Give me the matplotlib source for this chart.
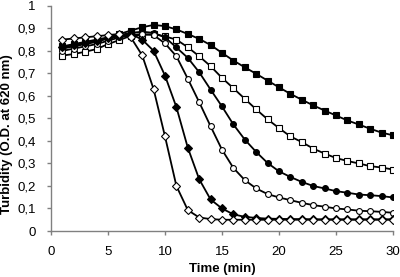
import matplotlib.pyplot as plt
import numpy as np
from matplotlib.ticker import FuncFormatter

plt.rcParams['font.family'] = ['Liberation Sans', 'DejaVu Sans']

time = np.arange(1, 31)

# turbidity readings, one list per curve (fastest to slowest)
open_diamond = [0.85, 0.855, 0.86, 0.865, 0.87, 0.875, 0.86, 0.78, 0.63, 0.42,
                0.20, 0.093, 0.06, 0.053, 0.05, 0.05, 0.05, 0.05, 0.05, 0.05,
                0.05, 0.05, 0.05, 0.05, 0.05, 0.05, 0.05, 0.05, 0.05, 0.05]
filled_diamond = [0.815, 0.825, 0.835, 0.845, 0.855, 0.865, 0.875, 0.85, 0.80, 0.69,
                  0.55, 0.37, 0.23, 0.14, 0.10, 0.074, 0.063, 0.058, 0.055, 0.054,
                  0.053, 0.053, 0.052, 0.052, 0.052, 0.052, 0.052, 0.052, 0.052, 0.052]
open_circle = [0.80, 0.81, 0.82, 0.83, 0.845, 0.86, 0.87, 0.875, 0.87, 0.833,
               0.776, 0.676, 0.572, 0.465, 0.361, 0.28, 0.226, 0.189, 0.164, 0.149,
               0.137, 0.125, 0.115, 0.108, 0.10, 0.096, 0.09, 0.088, 0.085, 0.081]
filled_circle = [0.81, 0.82, 0.83, 0.84, 0.855, 0.87, 0.88, 0.885, 0.88, 0.86,
                 0.815, 0.769, 0.705, 0.628, 0.553, 0.473, 0.406, 0.351, 0.302, 0.265,
                 0.24, 0.218, 0.20, 0.189, 0.177, 0.17, 0.162, 0.159, 0.155, 0.149]
open_square = [0.779, 0.786, 0.796, 0.808, 0.83, 0.848, 0.867, 0.87, 0.875, 0.864,
               0.85, 0.816, 0.776, 0.732, 0.68, 0.634, 0.587, 0.54, 0.496, 0.457,
               0.42, 0.395, 0.366, 0.344, 0.324, 0.311, 0.30, 0.288, 0.282, 0.273]
filled_square = [0.82, 0.83, 0.84, 0.85, 0.86, 0.875, 0.89, 0.905, 0.915, 0.91,
                 0.895, 0.875, 0.853, 0.826, 0.791, 0.757, 0.727, 0.698, 0.668, 0.638,
                 0.609, 0.583, 0.558, 0.535, 0.513, 0.491, 0.473, 0.454, 0.437, 0.425]

series = [
    (filled_square, 's', 'black'),
    (open_square, 's', 'white'),
    (filled_circle, 'o', 'black'),
    (open_circle, 'o', 'white'),
    (filled_diamond, 'D', 'black'),
    (open_diamond, 'D', 'white'),
]

fig = plt.figure(figsize=(4, 2.77), dpi=100)
ax = fig.add_axes([0.1275, 0.166, 0.855, 0.813])

for vals, marker, face in series:
    ms = 4.4 if marker == 's' else (4.2 if marker == 'o' else 3.6)
    ax.plot(time, vals, color='black', lw=1.3, marker=marker, ms=ms,
            mfc=face, mec='black', mew=0.8)

ax.set_xlim(0, 30)
ax.set_ylim(0, 1)
ax.set_xticks(np.arange(0, 31, 5))
ax.set_yticks(np.arange(0, 1.01, 0.1))
ax.yaxis.set_major_formatter(FuncFormatter(
    lambda v, p: '0' if abs(v) < 1e-9 else ('1' if abs(v - 1) < 1e-9 else f'{v:.1f}'.replace('.', ','))))

for s in ['top', 'right']:
    ax.spines[s].set_visible(False)
for s in ['left', 'bottom']:
    ax.spines[s].set_color('#808080')
    ax.spines[s].set_linewidth(1.0)
ax.tick_params(colors='#808080', labelcolor='black', labelsize=9.5, length=3, width=1.0)
ax.tick_params(axis='x', pad=8)
ax.tick_params(axis='y', pad=8)

ax.set_xlabel('Time (min)', fontsize=9.5, fontweight='bold')
ax.set_ylabel('Turbidity (O.D. at 620 nm)', fontsize=9.5, fontweight='bold')
ax.xaxis.set_label_coords(0.5, -0.142)
ax.yaxis.set_label_coords(-0.112, 0.43)

fig.savefig('out.png', dpi=100)
